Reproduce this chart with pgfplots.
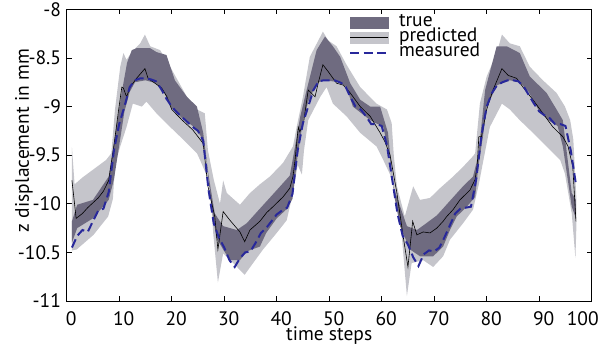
\documentclass[border=0pt]{standalone}
\usepackage{fontspec}
\setmainfont{PT Sans}
\usepackage{pgfplots}
\pgfplotsset{compat=1.18}
\usepgfplotslibrary{fillbetween}
\definecolor{truecol}{RGB}{111,107,128}
\definecolor{predcol}{RGB}{197,197,203}
\definecolor{meascol}{RGB}{40,40,155}
\newcommand{\lblfont}{\fontsize{19.5}{21}\selectfont}
\begin{document}
\begin{tikzpicture}
\begin{axis}[name=ax, scale only axis, width=525pt, height=291.7pt,
  xmin=0, xmax=100, ymin=-11, ymax=-8,
  xtick={0,10,...,100},
  xticklabels={0,10,20,30,40,50,60,70,80,90,{\hspace*{-13.5pt}100\hspace*{13.5pt}}},
  ytick={-11,-10.5,...,-8},
  /pgf/number format/assume math mode=true,
  tick label style={font=\lblfont},
  xticklabel style={inner sep=0pt, anchor=north, yshift=-10.5pt, xshift=4.5pt},
  yticklabel style={inner sep=0pt, anchor=east, xshift=-5.5pt},
  major tick length=5pt,
  major tick style={line width=0.8pt, black},
  axis line style={line width=0.8pt},
  xlabel={time steps}, ylabel={z displacement in mm},
  every axis x label/.style={at={(axis description cs:0.5,-0.136)}, anchor=base, font=\lblfont},
  every axis y label/.style={at={(axis description cs:-0.0815,0.55)}, anchor=center, rotate=90, font=\lblfont},
  legend style={at={(axis description cs:0,1)}, anchor=north west, xshift=282.3pt, yshift=-5.5pt,
    draw=none, fill=none, inner sep=0pt, outer sep=0pt, column sep=10pt, row sep=0pt,
    font=\lblfont,
    nodes={inner sep=0pt, text height=11.5pt, text depth=3.8pt}},
  legend cell align=left,
]
\addlegendimage{legend image code/.code={\fill[truecol] (0pt,-5.5pt) rectangle (38pt,5.5pt);}}
\addlegendentry{true}
\addlegendimage{legend image code/.code={\fill[predcol] (0pt,-5.5pt) rectangle (38pt,5.5pt); \draw[black, line width=0.6pt] (0pt,0pt) -- (38pt,0pt);}}
\addlegendentry{predicted}
\addlegendimage{legend image code/.code={\draw[meascol, line width=2pt, dash pattern=on 9pt off 4.5pt] (0pt,0pt) -- (38pt,0pt);}}
\addlegendentry{measured}

% predicted band (light)
\addplot[name path=pu, draw=none, forget plot] coordinates {
(1,-9.42) (1.5,-9.8) (3,-9.73) (5,-9.65) (7.5,-9.55) (8.5,-9.48) (9.2,-9.03) (10.2,-8.59) (10.8,-8.45) (11.4,-8.52) (12.4,-8.44) (14,-8.35) (14.9,-8.26) (15.9,-8.38) (17.8,-8.42) (19.7,-8.59) (22.9,-8.9) (24.8,-9.03) (26.3,-9.07) (26.9,-9.45) (28,-9.75) (29.2,-10.0) (29.8,-9.76) (30.5,-9.89) (33,-10.01) (34.9,-9.89) (36.8,-9.8) (38.7,-9.72) (41.2,-9.58) (43.1,-9.41) (43.8,-9.21) (45,-8.9) (46.3,-8.49) (48.8,-8.23) (49.8,-8.32) (51.4,-8.38) (53.3,-8.57) (55.9,-8.8) (59,-8.97) (61,-9.03) (61.9,-9.17) (62.3,-9.5) (62.9,-9.82) (64.4,-10.13) (66,-9.82) (67.3,-9.96) (69.2,-9.94) (71.1,-9.84) (73.6,-9.72) (75.5,-9.62) (77.4,-9.51) (77.8,-9.48) (78.7,-8.97) (80,-8.69) (81.9,-8.45) (82.9,-8.26) (84.4,-8.35) (86.3,-8.38) (88.2,-8.59) (90.7,-8.73) (93.3,-8.86) (94.9,-9.0) (95.9,-9.14) (96.5,-9.34) (97.1,-9.96)};
\addplot[name path=pl, draw=none, forget plot] coordinates {
(1,-10.48) (1.9,-10.47) (5.1,-10.32) (7.9,-10.13) (8.8,-9.95) (9.2,-9.6) (10.2,-9.41) (11.4,-9.21) (12.6,-8.97) (14.3,-9.0) (15.2,-8.95) (17.1,-9.07) (19.7,-9.21) (22.2,-9.34) (24.8,-9.48) (25.4,-9.55) (27.3,-9.79) (27.9,-10.3) (28.8,-10.81) (29.8,-10.51) (31.7,-10.61) (33.9,-10.73) (35.5,-10.61) (37.4,-10.47) (40,-10.3) (41.9,-10.17) (43.1,-9.89) (44,-9.6) (44.8,-9.7) (45.2,-9.45) (46,-9.14) (48.3,-8.9) (49.5,-8.8) (50.7,-8.97) (53.3,-9.1) (55.9,-9.27) (59,-9.41) (60.3,-9.55) (61.6,-9.7) (63.5,-10.13) (64.8,-10.95) (65.7,-10.61) (67.9,-10.58) (69.8,-10.65) (71.7,-10.54) (73,-10.37) (75.5,-10.2) (77.4,-10.06) (78.5,-9.8) (79.2,-9.6) (80.6,-9.21) (82.9,-8.97) (84.4,-9.03) (86.3,-9.14) (88.8,-9.27) (91.4,-9.41) (94,-9.55) (94.9,-9.69) (96.2,-10.1) (96.9,-10.56) (97.1,-10.2)};
\addplot[predcol, draw=none, forget plot] fill between[of=pu and pl];

% true band (dark)
\addplot[name path=tu, draw=none, forget plot] coordinates {
(1,-10.18) (2,-10.01) (5,-9.96) (8,-9.72) (9.5,-9.2) (10.5,-8.85) (11.5,-8.55) (12.4,-8.42) (13.3,-8.40) (15.9,-8.40) (17.1,-8.44) (19,-8.47) (20.6,-8.73) (22.9,-8.9) (24.8,-9.0) (26,-9.27) (27,-9.7) (28.2,-10.1) (29.8,-10.23) (32.4,-10.27) (34.3,-10.2) (36.8,-10.05) (40,-9.86) (42.5,-9.71) (43.2,-9.5) (44.5,-9.1) (45.7,-8.83) (47.6,-8.42) (49.2,-8.28) (50.7,-8.38) (52.1,-8.49) (54,-8.76) (55.9,-8.93) (57.8,-9.0) (59.7,-9.0) (61.2,-9.27) (62.2,-9.82) (64.8,-10.23) (66.7,-10.27) (68,-10.22) (70.5,-10.12) (73,-9.97) (75.5,-9.82) (77.4,-9.72) (78.4,-9.5) (79.7,-8.83) (81.9,-8.38) (83.8,-8.38) (86.3,-8.45) (88.2,-8.69) (91.4,-8.86) (93.3,-9.03) (94.5,-9.14) (96.2,-9.89) (97,-9.96)};
\addplot[name path=tl, draw=none, forget plot] coordinates {
(1,-10.40) (2,-10.25) (5,-10.15) (8,-9.96) (9,-9.75) (10,-9.4) (11,-9.05) (12,-8.85) (13,-8.75) (15,-8.73) (17,-8.76) (18.5,-8.85) (20,-9.02) (22,-9.12) (24,-9.2) (25.5,-9.3) (26.5,-9.5) (27.5,-10.0) (28.5,-10.35) (29.8,-10.47) (31.1,-10.58) (33,-10.58) (34.3,-10.49) (36.8,-10.44) (38,-10.3) (40,-10.15) (42,-10.05) (43,-9.95) (44,-9.5) (45,-9.15) (46,-8.95) (47.6,-8.76) (49,-8.73) (52,-8.75) (53.3,-8.8) (54.5,-9.0) (57.8,-9.14) (60.3,-9.21) (61.5,-9.5) (62.5,-9.95) (63.5,-10.23) (65.4,-10.47) (67.3,-10.54) (69.8,-10.54) (71.7,-10.44) (73,-10.27) (74.3,-10.13) (76.2,-10.03) (77.8,-9.93) (78.4,-9.62) (79.3,-9.3) (80,-9.0) (82,-8.78) (84.4,-8.73) (86.3,-8.75) (88,-8.85) (90,-9.05) (92,-9.15) (93.5,-9.2) (94.5,-9.41) (96.2,-10.03) (97,-10.15)};
\addplot[truecol, draw=none, forget plot] fill between[of=tu and tl];

% predicted mean (black)
\addplot[black, line width=0.6pt, forget plot] coordinates {
(1,-9.76) (1.8,-10.15) (3,-10.1) (4,-10.04) (5,-9.99) (6,-9.94) (7,-9.87) (8,-9.76) (9,-9.4) (9.8,-9.07) (10.5,-8.8) (10.8,-8.81) (11.4,-8.9) (12.1,-8.8) (13.3,-8.71) (14.9,-8.61) (15.5,-8.71) (16.8,-8.76) (18.1,-8.81) (19.1,-8.9) (20,-9.03) (22,-9.14) (24,-9.24) (26,-9.38) (26.9,-9.82) (28.2,-10.13) (28.8,-10.47) (29.8,-10.08) (31.1,-10.17) (33,-10.29) (33.9,-10.39) (34.9,-10.27) (36.8,-10.18) (38.1,-10.09) (39.3,-10.03) (41.2,-9.93) (42.5,-9.84) (43.1,-9.72) (43.5,-9.55) (44.1,-9.21) (44.4,-9.26) (45.1,-9.17) (46,-8.83) (47.3,-8.9) (47.9,-8.76) (48.8,-8.57) (49.8,-8.64) (51.4,-8.76) (52.7,-8.78) (54,-8.86) (55.9,-9.0) (57.8,-9.1) (59.7,-9.27) (60.6,-9.36) (61.6,-9.5) (62.9,-9.89) (64.1,-10.34) (65,-10.65) (65.9,-10.18) (66.7,-10.32) (67.9,-10.29) (69.2,-10.30) (70.5,-10.25) (71.7,-10.18) (72.4,-10.13) (73.6,-10.06) (74.9,-9.96) (76.8,-9.86) (77.8,-9.75) (78.2,-9.6) (78.5,-9.31) (79,-9.31) (80,-9.03) (81.2,-8.83) (82.9,-8.61) (84.1,-8.68) (85.7,-8.71) (86.9,-8.8) (88.8,-8.93) (90.7,-9.07) (92.6,-9.21) (94.5,-9.31) (95.5,-9.41) (96.4,-9.62) (97,-10.18)};

% measured (blue dashed)
\addplot[meascol, line width=2pt, dash pattern=on 9pt off 4.5pt, forget plot] coordinates {
(1,-10.45) (2,-10.33) (3,-10.27) (4,-10.29) (5,-10.18) (6,-10.07) (7,-10.05) (8,-9.88) (9,-9.45) (10,-9.18) (11,-9.0) (12,-8.80) (13,-8.73) (14,-8.71) (15,-8.71) (16,-8.72) (17,-8.74) (18,-8.82) (19,-8.92) (20,-9.0) (21,-9.06) (22,-9.11) (23,-9.16) (24,-9.21) (25,-9.25) (26,-9.35) (27,-9.85) (28,-10.2) (29,-10.35) (30,-10.45) (31,-10.58) (32,-10.65) (33,-10.56) (34,-10.5) (35,-10.49) (36,-10.4) (37,-10.3) (38,-10.25) (39,-10.18) (40,-10.11) (41,-10.07) (42,-10.04) (43,-9.9) (44,-9.45) (45,-9.17) (46,-9.0) (47,-8.83) (48,-8.74) (49,-8.73) (50,-8.73) (51,-8.73) (52,-8.75) (53,-8.78) (54,-8.9) (55,-9.0) (56,-9.03) (57,-9.1) (58,-9.18) (59,-9.18) (60,-9.2) (61,-9.4) (62,-9.75) (63,-10.1) (64,-10.33) (65,-10.42) (66,-10.55) (67,-10.64) (68,-10.52) (69,-10.48) (70,-10.49) (71,-10.45) (72,-10.34) (73,-10.22) (74,-10.1) (75,-10.05) (76,-10.04) (77,-10.03) (78,-9.75) (79,-9.3) (80,-9.0) (81,-8.86) (82,-8.78) (83,-8.75) (84,-8.73) (85,-8.73) (86,-8.74) (87,-8.79) (88,-8.88) (89,-8.97) (90,-9.05) (91,-9.09) (92,-9.12) (93,-9.18) (94,-9.18) (95,-9.2) (96,-9.45) (97,-9.8)};
\end{axis}
\pgfresetboundingbox
\path ([xshift=-66.7pt,yshift=-45pt]ax.south west) rectangle ([xshift=540.3pt,yshift=301pt]ax.south west);
\end{tikzpicture}
\end{document}
